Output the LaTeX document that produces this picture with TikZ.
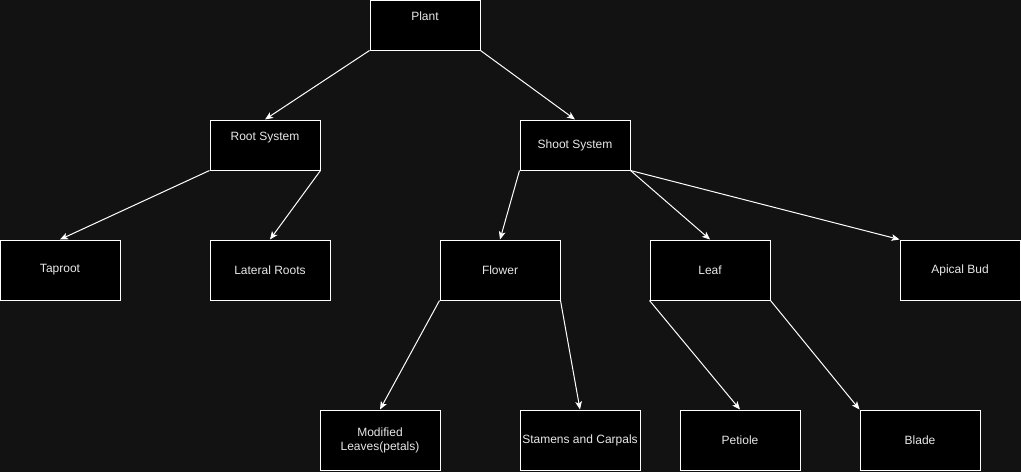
\documentclass[tikz,border=0pt]{standalone}
\usepackage{fontspec}
\setmainfont{Liberation Sans}
\usetikzlibrary{positioning, arrows.meta}

\definecolor{canvas}{HTML}{121212}
\definecolor{inktext}{HTML}{E8E8E8}

\begin{document}
\begin{tikzpicture}[
        x=0.75pt, y=-0.75pt, >={Stealth[length=6pt, width=5pt, inset=1.5pt]},
        box/.style={rectangle, draw=white, fill=black, line width=0.75pt, text=inktext,
                    font=\fontsize{9}{10.5}\selectfont, align=center,
                    minimum width=90pt, minimum height=45pt, inner sep=1pt},
        smallbox/.style={box, minimum width=82.5pt, minimum height=37.5pt},
        toptext/.style={text height=6pt, text depth=12.75pt},
        link/.style={->, draw=white, line width=0.75pt}
    ]

        % --- CANVAS ---
        \fill[canvas] (0,0) rectangle (1021,472);
        \useasboundingbox (0,0) rectangle (1021,472);

        % --- LEVEL 0 ---
        \node[smallbox, toptext] (plant) at (425, 25) {Plant};

        % --- LEVEL 1 ---
        \node[smallbox, toptext] (root) at (265, 145) {Root System};
        \node[smallbox] (shoot) at (575, 145) {Shoot System};

        % --- LEVEL 2 ---
        \node[box] (taproot) at (60, 270) {Taproot};
        \node[box] (lateral) at (270, 270) {Lateral Roots};
        \node[box] (flower) at (500, 270) {Flower};
        \node[box] (leaf) at (710, 270) {Leaf};
        \node[box] (bud) at (960, 270) {Apical Bud};

        % --- LEVEL 3 ---
        \node[box] (petals) at (380, 440) {Modified\\Leaves(petals)};
        \node[box] (stamens) at (580, 440) {Stamens and Carpals};
        \node[box] (petiole) at (740, 440) {Petiole};
        \node[box] (blade) at (920, 440) {Blade};

        % --- CONNECTIONS ---
        \draw[link] (plant.south west) -- (root.north);
        \draw[link] (plant.south east) -- (shoot.north);

        \draw[link] (root.south west) -- (taproot.north);
        \draw[link] (root.south east) -- (lateral.north);

        \draw[link] (shoot.south west) -- (flower.north);
        \draw[link] (shoot.south east) -- (leaf.north);
        \draw[link] (shoot.south east) -- (bud.north west);

        \draw[link] (flower.south west) -- (petals.north);
        \draw[link] (flower.south east) -- (stamens.north);

        \draw[link] (leaf.south west) -- (petiole.north);
        \draw[link] (leaf.south east) -- (blade.north west);

    \end{tikzpicture}
\end{document}
